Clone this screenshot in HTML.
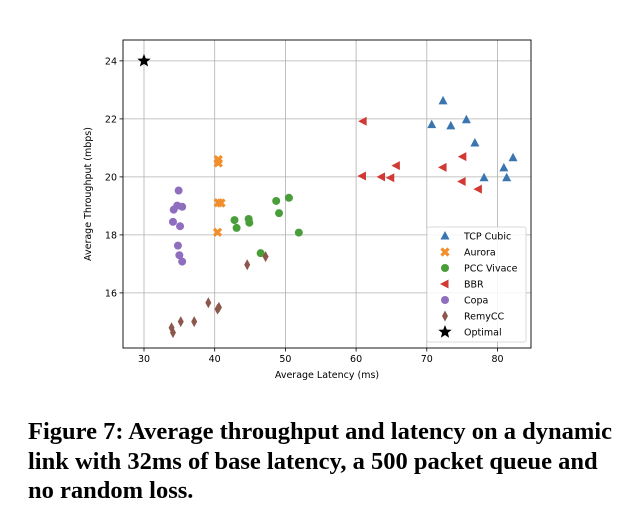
<!DOCTYPE html>
<html><head><meta charset="utf-8"><style>
body{margin:0;background:#fff;width:632px;height:518px;overflow:hidden}
svg text{font-family:"DejaVu Sans","Liberation Sans",sans-serif}
.cap{position:absolute;left:28px;top:417px;width:592px;font-family:"Liberation Serif",serif;font-weight:bold;font-size:24.5px;line-height:29.5px;color:#000}
</style></head><body>
<svg id="chart" width="632" height="410" style="position:absolute;left:0;top:0"></svg>
<div class="cap">Figure 7: Average throughput and latency on a dynamic link with 32ms of base latency, a 500 packet queue and no random loss.</div>
<script>
const xTicks=[30,40,50,60,70,80];
const yTicks=[16,18,20,22,24];
const seriesNames=["TCP Cubic","Aurora","PCC Vivace","BBR","Copa","RemyCC","Optimal"];
const cubicX=[72.3,70.7,73.4,75.6,76.8,80.9,82.2,78.1,81.3];
const cubicY=[22.62,21.8,21.76,21.97,21.17,20.31,20.66,19.97,19.97];
const auroraX=[40.5,40.5,40.5,40.9,40.4];
const auroraY=[20.6,20.48,19.11,19.1,18.09];
const vivaceX=[42.8,43.1,44.8,44.9,48.7,49.1,50.5,51.9,46.5];
const vivaceY=[18.51,18.24,18.55,18.42,19.17,18.75,19.28,18.08,17.37];
const bbrX=[61.0,65.7,60.9,63.6,64.9,72.3,75.1,75.0,77.3];
const bbrY=[21.92,20.39,20.03,20.0,19.97,20.33,20.7,19.84,19.58];
const copaX=[34.9,34.7,35.4,34.2,34.1,35.1,34.8,35.0,35.4];
const copaY=[19.53,19.01,18.97,18.87,18.45,18.3,17.63,17.3,17.08];
const remyX=[44.6,47.2,39.1,40.4,40.6,37.1,35.2,33.9,34.1];
const remyY=[16.97,17.25,15.66,15.44,15.5,15.01,15.01,14.8,14.63];
const optX=[30];
const optY=[24];

const L=123,R=531,T=40,B=348,x0=27.03,x1=84.74,y0=14.10,y1=24.72;
const sx=v=>L+(v-x0)/(x1-x0)*(R-L);
const sy=v=>B-(v-y0)/(y1-y0)*(B-T);
const svg=document.getElementById('chart');
const NS="http://www.w3.org/2000/svg";
function mk(t,a){const e=document.createElementNS(NS,t);for(const k in a)e.setAttribute(k,a[k]);svg.appendChild(e);return e;}
function txt(x,y,s,anchor,size){const e=mk('text',{x:x,y:y,'font-size':size||9.5,'text-anchor':anchor||'middle',fill:'#000'});e.textContent=s;return e;}
xTicks.forEach(v=>{
  const g=mk('line',{x1:sx(v),x2:sx(v),y1:T,y2:B,stroke:'#b0b0b0','stroke-width':0.8});
  
  
  mk('line',{x1:sx(v),x2:sx(v),y1:B,y2:B+3.5,stroke:'#000','stroke-width':0.8});
  const t=txt(sx(v),B+14,String(v));
  
  
});
yTicks.forEach(v=>{
  const g=mk('line',{x1:L,x2:R,y1:sy(v),y2:sy(v),stroke:'#b0b0b0','stroke-width':0.8});
  
  
  mk('line',{x1:L-3.5,x2:L,y1:sy(v),y2:sy(v),stroke:'#000','stroke-width':0.8});
  const t=txt(L-6,sy(v)+3.5,String(v),'end');
  
  
});
const frame=mk('rect',{x:L,y:T,width:R-L,height:B-T,fill:'none',stroke:'#000','stroke-width':0.9});


const xt=txt((L+R)/2,B+30,'Average Latency (ms)');


const yt=txt(0,0,'Average Throughput (mbps)');
yt.setAttribute('transform','translate('+(L-32)+','+((T+B)/2)+') rotate(-90)');



function marker(kind,x,y,color,s){
  s=s||1;let e;
  if(kind==='tri') e=mk('polygon',{points:`${x},${y-5*s} ${x-4.5*s},${y+3.5*s} ${x+4.5*s},${y+3.5*s}`,fill:color});
  else if(kind==='x'){e=mk('path',{d:`M${x-3.5},${y-3.5}L${x+3.5},${y+3.5}M${x+3.5},${y-3.5}L${x-3.5},${y+3.5}`,stroke:color,'stroke-width':3.2});}
  else if(kind==='dot') e=mk('circle',{cx:x,cy:y,r:4,fill:color});
  else if(kind==='left') e=mk('polygon',{points:`${x-5},${y} ${x+3.5},${y-4.5} ${x+3.5},${y+4.5}`,fill:color});
  else if(kind==='dia') e=mk('polygon',{points:`${x},${y-5.5} ${x+3},${y} ${x},${y+5.5} ${x-3},${y}`,fill:color});
  else if(kind==='star'){let p=[];for(let i=0;i<10;i++){const r=i%2?3:7,a=-Math.PI/2+i*Math.PI/5;p.push((x+r*Math.cos(a)).toFixed(1)+','+(y+r*Math.sin(a)).toFixed(1));}e=mk('polygon',{points:p.join(' '),fill:color});}
  return e;
}
const series=[
  [cubicX,cubicY,'tri','#3a75b0','cubic-point'],
  [auroraX,auroraY,'x','#f28e2b','aurora-point'],
  [vivaceX,vivaceY,'dot','#4a9e3a','vivace-point'],
  [bbrX,bbrY,'left','#d03a33','bbr-point'],
  [copaX,copaY,'dot','#8f6ebf','copa-point'],
  [remyX,remyY,'dia','#8c574c','remycc-point'],
  [optX,optY,'star','#000','optimal-point']
];
series.forEach(s=>{s[0].forEach((v,i)=>{
  const e=marker(s[2],sx(v),sy(s[1][i]),s[3]);
  
  
});});
const lg=mk('rect',{x:427,y:227,width:99,height:115,rx:2,fill:'#fff','fill-opacity':0.85,stroke:'#d0d0d0','stroke-width':0.8});


seriesNames.forEach((n,i)=>{
  const y=236+i*16;
  const m=marker(series[i][2],445,y,series[i][3]);
  
  
  const t=txt(464,y+3.5,n,'start',9.5);
  
  
});
</script>
</body></html>
